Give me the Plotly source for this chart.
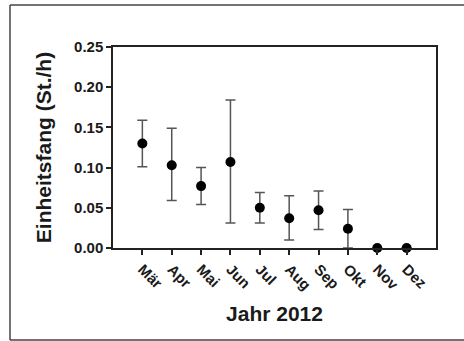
import plotly.graph_objects as go

months = ["Mär", "Apr", "Mai", "Jun", "Jul", "Aug", "Sep", "Okt", "Nov", "Dez"]
cpue = [0.130, 0.103, 0.077, 0.107, 0.050, 0.037, 0.047, 0.024, 0.0, 0.0]
err_upper = [0.159, 0.149, 0.100, 0.184, 0.069, 0.065, 0.071, 0.048, None, None]
err_lower = [0.101, 0.059, 0.054, 0.031, 0.031, 0.010, 0.023, 0.0, None, None]
y_ticks = [0.00, 0.05, 0.10, 0.15, 0.20, 0.25]

x_idx = list(range(len(months)))
plus = [(u - v) if u is not None else 0 for u, v in zip(err_upper, cpue)]
minus = [(v - l) if l is not None else 0 for l, v in zip(err_lower, cpue)]

W, H = 464, 341
L, R, T, B = 113, 28, 47, 93
pw, ph = W - L - R, H - T - B

fig = go.Figure()
fig.add_trace(go.Scatter(
    x=x_idx, y=cpue, mode="markers",
    marker=dict(color="black", size=10),
    error_y=dict(type="data", symmetric=False, array=plus, arrayminus=minus,
                 color="#555555", thickness=1.5, width=5),
    cliponaxis=False,
))

font = "Liberation Sans, Arial, sans-serif"
fig.update_layout(
    width=W, height=H,
    margin=dict(l=L, r=R, t=T, b=B),
    paper_bgcolor="white", plot_bgcolor="white",
    showlegend=False,
    font=dict(family=font, color="#1a1a1a"),
    xaxis=dict(
        range=[-1, 10], tickmode="array", tickvals=x_idx, ticktext=months,
        tickangle=45, ticks="outside", ticklen=5, tickwidth=1.5, tickcolor="#222",
        showline=True, linecolor="#222", linewidth=1.5, mirror=True,
        showgrid=False, zeroline=False,
        tickfont=dict(family=font, size=15, color="#1a1a1a", weight="bold"),
        title=dict(text="<b>Jahr 2012</b>", font=dict(family=font, size=21, color="#1a1a1a"), standoff=14),
    ),
    yaxis=dict(
        range=[0, 0.25], tickmode="array", tickvals=y_ticks,
        ticktext=[f"{v:.2f}" for v in y_ticks],
        ticks="outside", ticklen=5, tickwidth=1.5, tickcolor="#222",
        showline=True, linecolor="#222", linewidth=1.5, mirror=True,
        showgrid=False, zeroline=False,
        tickfont=dict(family=font, size=15, color="#1a1a1a", weight="bold"),
        title=dict(text="<b>Einheitsfang (St./h)</b>", font=dict(family=font, size=21, color="#1a1a1a"), standoff=17),
    ),
)

# outer frame: top, left and bottom edges (the right edge runs off the image)
def px_to_paper_x(px):
    return (px - L) / pw

def px_to_paper_y(py):
    return (H - B - py) / ph

fx0, fx1 = px_to_paper_x(10), px_to_paper_x(470)
fy0, fy1 = px_to_paper_y(340), px_to_paper_y(5)
frame_line = dict(color="#444444", width=1.5)
for x0, y0, x1, y1 in [(fx0, fy1, fx1, fy1), (fx0, fy0, fx0, fy1), (fx0, fy0, fx1, fy0)]:
    fig.add_shape(type="line", xref="paper", yref="paper",
                  x0=x0, y0=y0, x1=x1, y1=y1, line=frame_line, layer="below")

fig.write_html("out.html",
               config={"displayModeBar": False},
               post_script="document.body.style.margin='0';document.body.style.overflow='hidden';")
